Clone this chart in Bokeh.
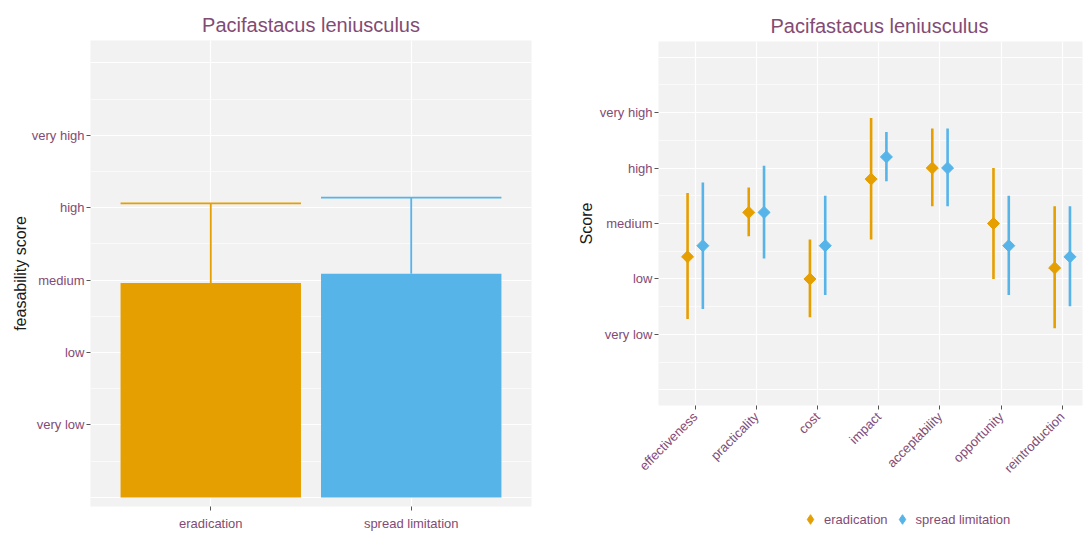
import numpy as np
from bokeh.plotting import figure
from bokeh.layouts import row, column
from bokeh.models import Range1d, FixedTicker, ColumnDataSource, Legend, LegendItem
from bokeh.transform import dodge
from bokeh.embed import file_html
from bokeh.resources import INLINE

# ---------------- data ----------------
TITLE = "Pacifastacus leniusculus"
score_values = [1, 2, 3, 4, 5]
score_labels = ["very low", "low", "medium", "high", "very high"]

strategies = ["eradication", "spread limitation"]
feas_mean = [2.96, 3.09]
feas_upper = [4.06, 4.14]

criteria = ["effectiveness", "practicality", "cost", "impact",
            "acceptability", "opportunity", "reintroduction"]
erad_mean = [2.4, 3.2, 2.0, 3.8, 4.0, 3.0, 2.2]
erad_low = [1.28, 2.77, 1.31, 2.71, 3.31, 2.0, 1.11]
erad_high = [3.55, 3.65, 2.71, 4.9, 4.71, 4.0, 3.31]
spread_mean = [2.6, 3.2, 2.6, 4.2, 4.0, 2.6, 2.4]
spread_low = [1.46, 2.37, 1.71, 3.76, 3.31, 1.71, 1.51]
spread_high = [3.74, 4.04, 3.5, 4.65, 4.71, 3.5, 3.31]

grid_major = [0, 1, 2, 3, 4, 5, 6]
grid_minor = [0.5, 1.5, 2.5, 3.5, 4.5, 5.5]

# ---------------- style ----------------
COLORS = ["#E69F00", "#56B4E9"]
PURPLE = "#834B74"
PANEL = "#F2F2F2"
FONT = "Liberation Sans"


def style(p, xticks, xlabels):
    p.background_fill_color = PANEL
    p.border_fill_color = "white"
    p.outline_line_color = None
    p.title.text_font = FONT
    p.title.text_font_size = "20px"
    p.title.text_font_style = "normal"
    p.title.text_color = PURPLE
    p.title.align = "center"
    for ax in p.axis:
        ax.axis_line_color = None
        ax.major_tick_line_color = "#555555"
        ax.major_tick_out = 4
        ax.major_tick_in = 0
        ax.minor_tick_line_color = None
        ax.major_label_text_font = FONT
        ax.major_label_text_color = PURPLE
        ax.major_label_text_font_size = "13px"
        ax.axis_label_text_font = FONT
        ax.axis_label_text_font_style = "normal"
        ax.axis_label_text_color = "#1a1a1a"
        ax.axis_label_text_font_size = "16px"
    p.yaxis.major_label_standoff = 2
    p.yaxis.ticker = FixedTicker(ticks=score_values)
    p.yaxis.major_label_overrides = {v: l for v, l in zip(score_values, score_labels)}
    p.xaxis.ticker = FixedTicker(ticks=xticks)
    p.xaxis.major_label_overrides = {v: l for v, l in zip(xticks, xlabels)}
    p.ygrid.ticker = FixedTicker(ticks=grid_major, minor_ticks=grid_minor)
    p.ygrid.grid_line_color = "white"
    p.ygrid.grid_line_width = 1.2
    p.ygrid.minor_grid_line_color = "white"
    p.ygrid.minor_grid_line_width = 0.6
    p.xgrid.ticker = FixedTicker(ticks=xticks)
    p.xgrid.grid_line_color = "white"
    p.xgrid.grid_line_width = 1.2


# ---------------- left: bar chart ----------------
xs1 = [i + 1 for i in range(len(strategies))]
p1 = figure(width=546, height=532, output_backend="svg", toolbar_location=None,
            title=TITLE, x_range=Range1d(0.4, 2.6), y_range=Range1d(-0.126, 6.31),
            frame_width=441, frame_height=466,
            min_border_left=90, min_border_right=15, min_border_top=40, min_border_bottom=26)
style(p1, xs1, strategies)
p1.yaxis.axis_label = "feasability score"
p1.yaxis.axis_label_standoff = 0

src1 = ColumnDataSource(dict(x=xs1, top=feas_mean, upper=feas_upper, color=COLORS))
p1.segment(x0="x", y0="top", x1="x", y1="upper", line_color="color", line_width=1.8, source=src1)
p1.segment(x0=dodge("x", -0.45), y0="upper", x1=dodge("x", 0.45), y1="upper",
           line_color="color", line_width=1.8, source=src1)
p1.vbar(x="x", top="top", bottom=0, width=0.9, fill_color="color", line_color=None, source=src1)

# ---------------- right: point ranges ----------------
xs2 = [i + 1 for i in range(len(criteria))]
p2 = figure(width=538, height=501, output_backend="svg", toolbar_location=None,
            title=TITLE, x_range=Range1d(0.4, 7.33), y_range=Range1d(-0.28, 6.28),
            frame_width=424, frame_height=364,
            min_border_left=112, min_border_right=2, min_border_top=41, min_border_bottom=96)
style(p2, xs2, criteria)
p2.title.align = "left"
p2.title.offset = 112
p2.yaxis.axis_label = "Score"
p2.yaxis.axis_label_standoff = 2
p2.xaxis.major_label_orientation = np.pi / 4
p2.xaxis.major_label_text_font_size = "13px"

src_e = ColumnDataSource(dict(x=xs2, m=erad_mean, lo=erad_low, hi=erad_high))
src_s = ColumnDataSource(dict(x=xs2, m=spread_mean, lo=spread_low, hi=spread_high))
sources = [src_e, src_s]
p2.segment(x0=dodge("x", -0.125), y0="lo", x1=dodge("x", -0.125), y1="hi",
           line_color=COLORS[0], line_width=2.6, source=src_e)
p2.scatter(x=dodge("x", -0.125), y="m", marker="square", angle=np.pi / 4, size=8.5,
           fill_color=COLORS[0], line_color=COLORS[0], source=src_e)
p2.segment(x0=dodge("x", 0.125), y0="lo", x1=dodge("x", 0.125), y1="hi",
           line_color=COLORS[1], line_width=2.6, source=src_s)
p2.scatter(x=dodge("x", 0.125), y="m", marker="square", angle=np.pi / 4, size=8.5,
           fill_color=COLORS[1], line_color=COLORS[1], source=src_s)

# ---------------- legend strip below the right panel ----------------
# (its glyph renderers reuse the series data but lie outside the strip's ranges)
leg = figure(width=538, height=31, output_backend="svg", toolbar_location=None,
             frame_width=538, frame_height=31, min_border=0,
             x_range=Range1d(-3, -2), y_range=Range1d(-3, -2))
leg.axis.visible = False
leg.grid.visible = False
leg.outline_line_color = None
leg.background_fill_color = "white"
lr = []
for c, s in zip(COLORS, sources):
    lr.append(leg.scatter(x="x", y="m", marker="diamond", size=14,
                          fill_color=c, line_color=c, source=s))
legend = Legend(items=[LegendItem(label=s, renderers=[r], index=0) for s, r in zip(strategies, lr)],
                orientation="horizontal", location=(252, 1))
legend.background_fill_alpha = 0
legend.border_line_color = None
legend.label_text_font = FONT
legend.label_text_font_size = "13px"
legend.label_text_color = PURPLE
legend.glyph_width = 24
legend.glyph_height = 24
legend.label_standoff = 2
legend.spacing = 2
legend.padding = 0
legend.margin = 0
leg.add_layout(legend, "center")

layout = row(p1, column(p2, leg))
open("out.html", "w").write(file_html(layout, INLINE))
